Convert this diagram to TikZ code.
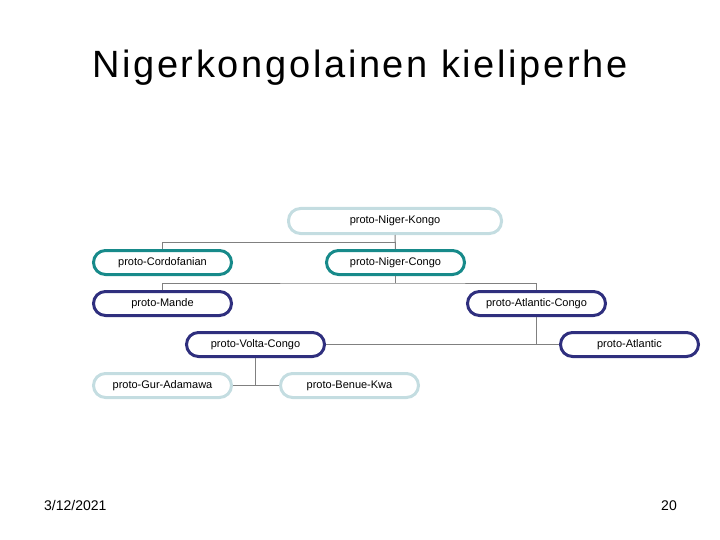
\documentclass[tikz,border=0pt]{standalone}
\usepackage{fontspec}
\setmainfont{Liberation Sans}
\usetikzlibrary{positioning}
\definecolor{Pale}{HTML}{C4DDE1}
\definecolor{Teal}{HTML}{178A8A}
\definecolor{Navy}{HTML}{2F2F7E}
\definecolor{Wire}{HTML}{808080}

\tikzset{
  lang/.style={draw,line width=3pt,rounded corners=12pt,minimum width=138pt,minimum height=24pt,
    inner sep=0pt,font=\fontsize{11}{13}\selectfont},
  wire/.style={Wire,line width=1pt}
}

\begin{document}
\begin{tikzpicture}[x=1pt,y=-1pt]
    \useasboundingbox (0,0) rectangle (720,540);

    \node[anchor=base,inner sep=0pt,font=\fontsize{38}{42}\selectfont\addfontfeature{LetterSpace=7}] (title) at (360,78) {Nigerkongolainen kieliperhe};

    \node[lang,draw=Pale,minimum width=213pt,minimum height=25pt] (nk) at (395,221) {proto-Niger-Kongo};

    \node[lang,draw=Teal] (cord) at (162.5,262.5) {proto-Cordofanian};
    \node[lang,draw=Teal] (ngc) at (395.5,262.5) {proto-Niger-Congo};

    \node[lang,draw=Navy] (mande) at (162.5,303.5) {proto-Mande};
    \node[lang,draw=Navy] (ac) at (536.5,303.5) {proto-Atlantic-Congo};

    \node[lang,draw=Navy] (vc) at (255.5,344.5) {proto-Volta-Congo};
    \node[lang,draw=Navy] (atl) at (629.5,344.5) {proto-Atlantic};

    \node[lang,draw=Pale] (gur) at (162.5,385.5) {proto-Gur-Adamawa};
    \node[lang,draw=Pale] (bk) at (349.5,385.5) {proto-Benue-Kwa};

    % tree links
    \draw[wire] (nk.south) -- (ngc.north);
    \draw[wire] (nk.south) ++(0,7) coordinate (j1) -| (cord.north);
    \draw[wire] (ngc.south) ++(0,7) coordinate (j2);
    \draw[wire] (ngc.south) -- (j2);
    \draw[wire] (mande.north) |- (j2) -| (ac.north);
    \draw[wire] (vc.east) -- (atl.west);
    \draw[wire] (ac.south) -- (ac.south |- atl.west);
    \draw[wire] (gur.east) -- (bk.west);
    \draw[wire] (vc.south) -- (vc.south |- bk.west);

    \node[anchor=base west,inner sep=0pt,font=\fontsize{14}{16}\selectfont] (date) at (44,510) {3/12/2021};
    \node[anchor=base east,inner sep=0pt,font=\fontsize{14}{16}\selectfont] (page) at (677,510) {20};
\end{tikzpicture}
\end{document}
